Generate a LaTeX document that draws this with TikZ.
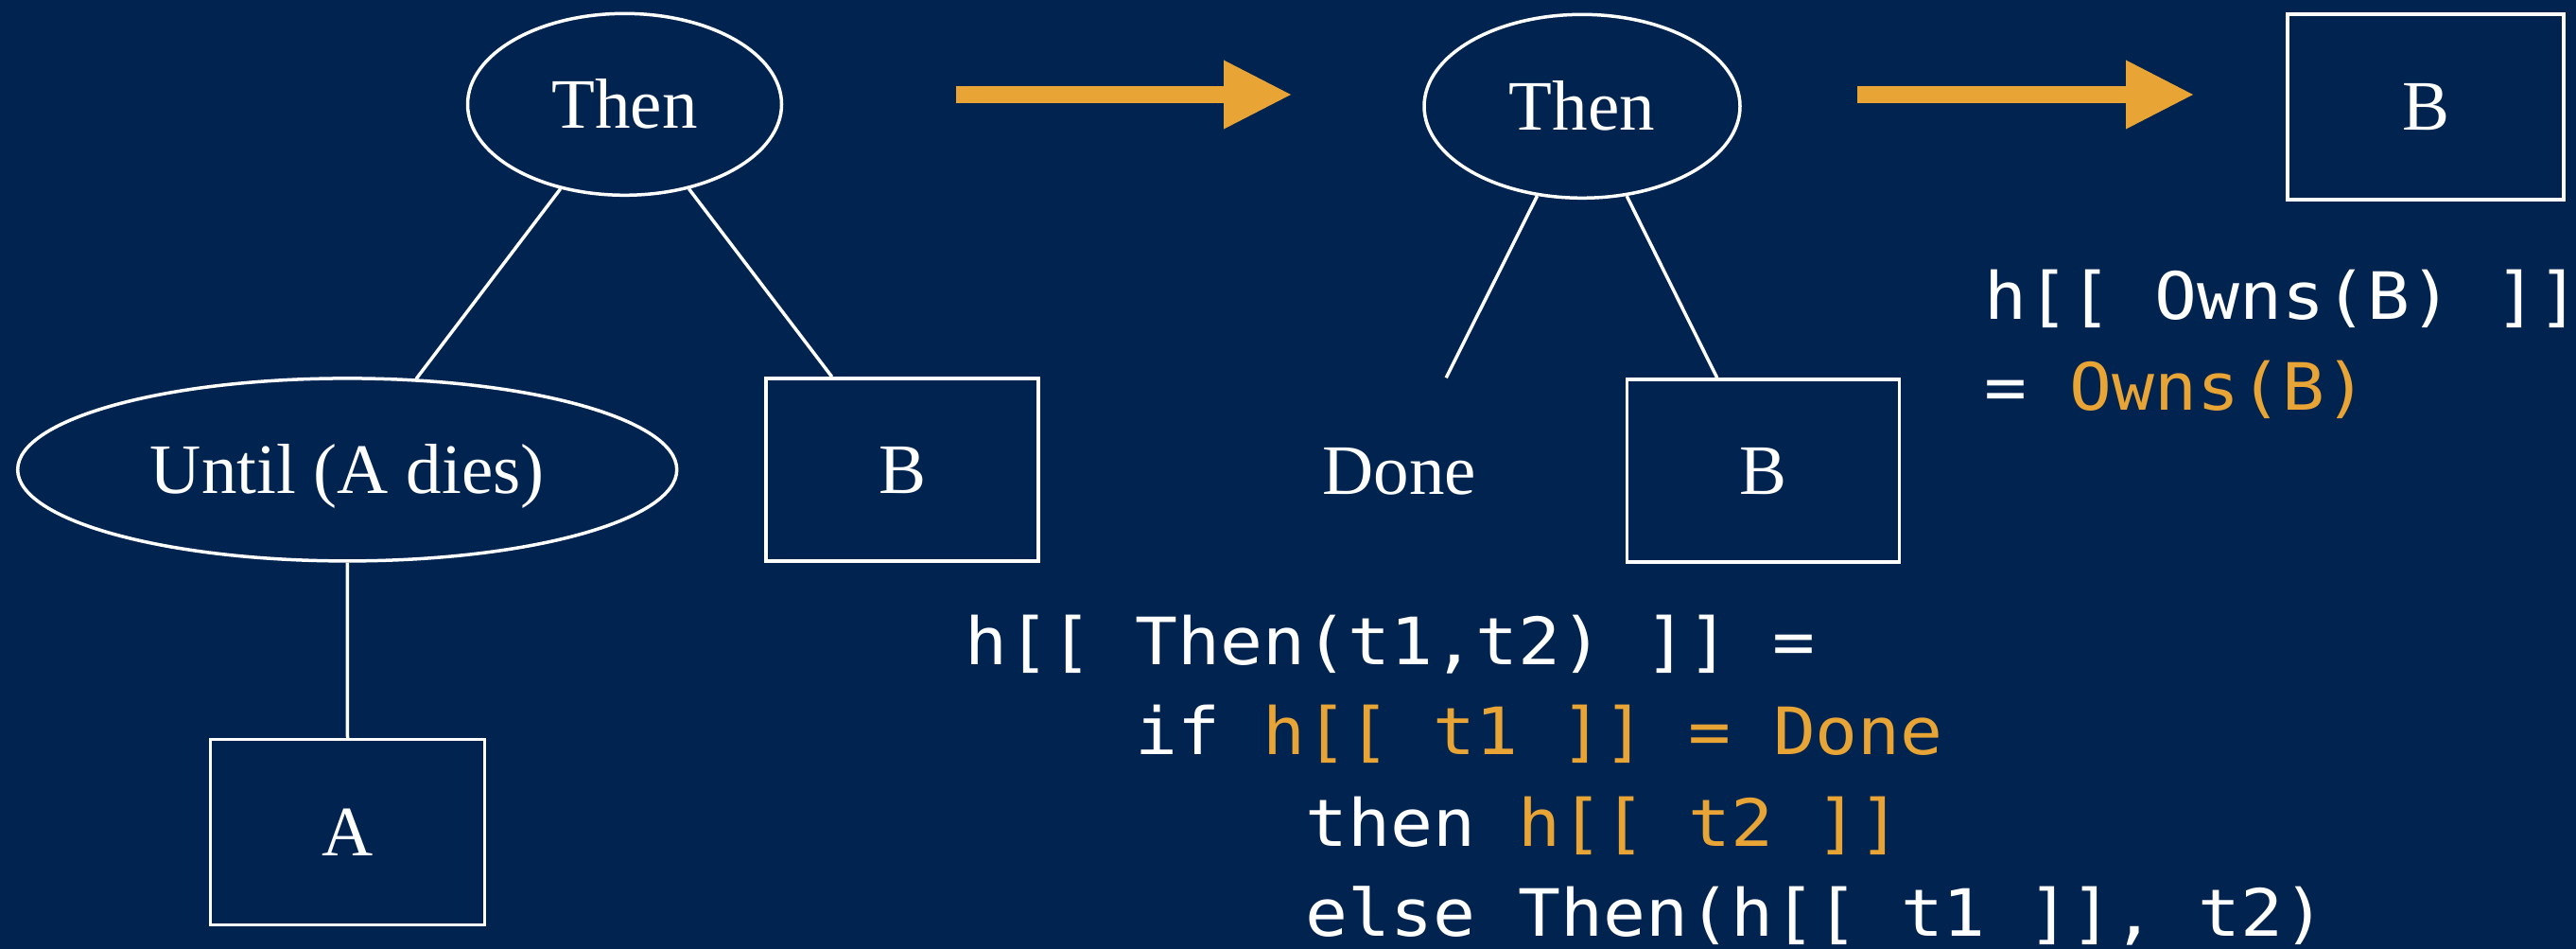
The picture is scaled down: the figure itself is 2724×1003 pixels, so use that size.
\documentclass[tikz,border=0pt]{standalone}
\usepackage{fontspec}
\setmainfont{Liberation Serif}
\newfontfamily\codefont{DejaVu Sans Mono}[FakeStretch=1.083]
\usetikzlibrary{shapes.geometric,arrows.meta}
\definecolor{navy}{HTML}{002350}
\definecolor{amber}{HTML}{E8A435}

\begin{document}
\begin{tikzpicture}[x=1pt,y=-1pt,
  tree/.style={draw=white, line width=3.5pt, text=white, inner sep=0pt,
    font=\fontsize{75}{80}\selectfont, text height=49.5pt, text depth=0pt},
  oval/.style={tree, ellipse, minimum width=332pt, minimum height=192pt},
  box/.style={tree, rectangle, minimum width=288pt, minimum height=193pt},
  leaf/.style={tree, draw=none, rectangle, minimum width=288pt, minimum height=193pt},
  edge/.style={white, line width=3.5pt},
  bigarrow/.style={amber, line width=18pt,
    -{Triangle[length=71pt, width=73pt, line width=0pt]}},
  code/.style={anchor=base west, inner sep=0pt, text=white,
    font=\codefont\fontsize{69}{80}\selectfont\frenchspacing},
]
% background
\fill[navy] (0,0) rectangle (2724,1003);
\useasboundingbox (0,0) rectangle (2724,1003);

% first tree
\node[oval] (then1) at (660.5,110.3) {Then};
\node[oval, minimum width=697pt, minimum height=193pt] (until) at (367.2,496.4) {Until (A dies)};
\node[box] (b1) at (954,496.4) {B};
\node[box, minimum width=290pt, minimum height=196pt] (a) at (367.6,879.6) {A};
\draw[edge] (then1) -- (until);
\draw[edge] (then1) -- (b1);
\draw[edge] (until) -- (a);

% second tree
\node[oval, minimum width=334pt, minimum height=194pt] (then2) at (1673,112.3) {Then};
\node[leaf] (done) at (1480,497.5) {Done};
\node[box] (b2) at (1864.5,497.5) {B};
\draw[edge] (then2) -- (done);
\draw[edge] (then2) -- (b2);

% result
\node[box, minimum width=292pt, minimum height=196pt] (b3) at (2565,113) {B};

% rewriting arrows
\coordinate (a1s) at (1011,100);
\coordinate (a1e) at (1365,100);
\coordinate (a2s) at (1964,100);
\coordinate (a2e) at (2319,100);
\draw[bigarrow] (a1s) -- (a1e);
\draw[bigarrow] (a2s) -- (a2e);

% semantics
\node[code] (own1) at (2098,337) {h[[ Owns(B) ]]};
\node[code] (own2) at (2098,433) {= \textcolor{amber}{Owns(B)}};
\node[code] (def1) at (1020,702) {h[[ Then(t1,t2) ]] =};
\node[code] (def2) at (1200,797) {if \textcolor{amber}{h[[ t1 ]] = Done}};
\node[code] (def3) at (1380,894) {then \textcolor{amber}{h[[ t2 ]]}};
\node[code] (def4) at (1380,989) {else Then(h[[ t1 ]], t2)};
\end{tikzpicture}
\end{document}
